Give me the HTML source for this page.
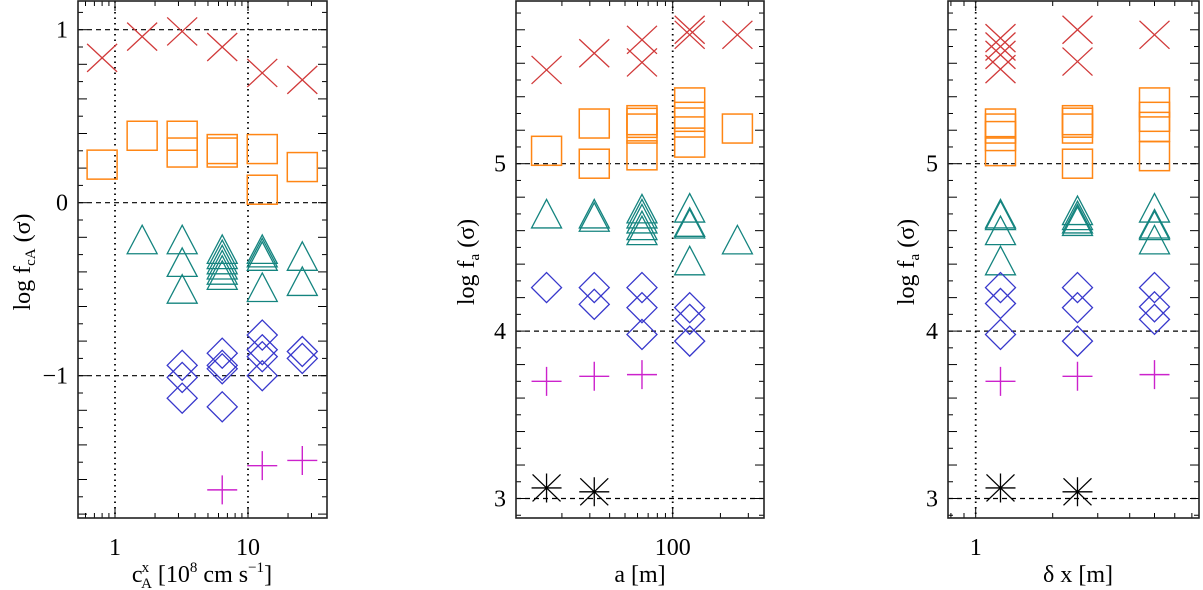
<!DOCTYPE html>
<html><head><meta charset="utf-8"><style>
html,body{margin:0;padding:0;background:#fff;}
svg{display:block;font-family:"Liberation Serif",serif;}
</style></head><body>
<svg id="chart" width="1203" height="590" viewBox="0 0 1203 590" xmlns="http://www.w3.org/2000/svg"></svg>
<script>
// ---- Panel 1 data: log f_cA vs c_A^x ----
const p1Cols = [0.8, 1.6, 3.2, 6.4, 12.8, 25.6];
const p1Cross = [[0.837],[0.96],[0.99],[0.90],[0.75],[0.71]];
const p1Square = [[0.22],[0.387],[0.387,0.29],[0.31,0.29],[0.31,0.075],[0.206]];
const p1Tri = [[],[-0.214],[-0.214,-0.345,-0.50],[-0.27,-0.30,-0.33,-0.36,-0.39,-0.42],[-0.27,-0.29,-0.31,-0.49],[-0.31,-0.455]];
const p1Diamond = [[],[],[-0.94,-1.01,-1.13],[-0.87,-0.94,-0.96,-1.18],[-0.765,-0.85,-0.89,-1.0],[-0.86,-0.90]];
const p1Plus = [[],[],[],[-1.66],[-1.52],[-1.49]];
const p1Star = [[],[],[],[],[],[]];
const p1YTicks = [-1, 0, 1];

// ---- Panel 2 data: log f_a vs a ----
const p2Cols = [16, 32, 64, 128, 256];
const p2Cross = [[5.56],[5.66],[5.74,5.605],[5.80,5.77],[5.77]];
const p2Square = [[5.077],[5.24,5.0],[5.26,5.244,5.21,5.05],[5.366,5.28,5.246,5.126],[5.21]];
const p2Tri = [[4.70],[4.70,4.68],[4.73,4.70,4.67,4.63,4.60],[4.735,4.65,4.64,4.42],[4.545]];
const p2Diamond = [[4.26],[4.26,4.16],[4.26,4.14,3.98],[4.14,4.07,3.94],[]];
const p2Plus = [[3.70],[3.73],[3.74],[],[]];
const p2Star = [[3.063],[3.04],[],[],[]];
const p2YTicks = [3, 4, 5];

// ---- Panel 3 data: log f_a vs delta x ----
const p3Cols = [1.25, 2.5, 5];
const p3Cross = [[5.75,5.70,5.65,5.565],[5.80,5.61],[5.77]];
const p3Square = [[5.24,5.21,5.165,5.075],[5.26,5.245,5.21,5.0],[5.366,5.28,5.22,5.045]];
const p3Tri = [[4.70,4.69,4.60,4.42],[4.72,4.69,4.67,4.655],[4.735,4.64,4.63,4.545]];
const p3Diamond = [[4.26,4.165,3.98],[4.26,4.14,3.94],[4.26,4.145,4.07]];
const p3Plus = [[3.70],[3.73],[3.74]];
const p3Star = [[3.063],[3.04],[]];

const NS = "http://www.w3.org/2000/svg";
const svg = document.getElementById('chart');
function mk(tag, attrs, parent){
  const e = document.createElementNS(NS, tag);
  for (const k in attrs) e.setAttribute(k, attrs[k]);
  (parent||svg).appendChild(e);
  return e;
}

const COLORS = {cross:'#d13a3a', square:'#ff8614', tri:'#14847f', diamond:'#3838cc', plus:'#cc22cc', star:'#000'};

function marker(g, type, cx, cy){
  const c = COLORS[type];
  let e;
  if (type==='cross'){
    e = mk('path',{d:`M${cx-15},${cy-14}L${cx+15},${cy+14}M${cx-15},${cy+14}L${cx+15},${cy-14}`,stroke:c,'stroke-width':1.3,fill:'none'},g);
  } else if (type==='square'){
    e = mk('rect',{x:cx-15,y:cy-14.5,width:30,height:29,stroke:c,'stroke-width':1.5,fill:'none'},g);
  } else if (type==='tri'){
    e = mk('path',{d:`M${cx},${cy-14.5}L${cx+15},${cy+14}L${cx-15},${cy+14}Z`,stroke:c,'stroke-width':1.3,fill:'none'},g);
  } else if (type==='diamond'){
    e = mk('path',{d:`M${cx},${cy-15}L${cx+15},${cy}L${cx},${cy+15}L${cx-15},${cy}Z`,stroke:c,'stroke-width':1.3,fill:'none'},g);
  } else if (type==='plus'){
    e = mk('path',{d:`M${cx-15},${cy}L${cx+15},${cy}M${cx},${cy-14.5}L${cx},${cy+14.5}`,stroke:c,'stroke-width':1.4,fill:'none'},g);
  } else {
    e = mk('path',{d:`M${cx-15},${cy}L${cx+15},${cy}M${cx},${cy-14.5}L${cx},${cy+14.5}M${cx-14},${cy-13.5}L${cx+14},${cy+13.5}M${cx-14},${cy+13.5}L${cx+14},${cy-13.5}`,stroke:c,'stroke-width':1.3,fill:'none'},g);
  }
  
  
}

function panel(o){
  const g = mk('g',{});
  
  
  const X = v => o.x0 + (Math.log10(v) - o.lx0) * o.dec;
  const Y = v => o.yref + (o.vref - v) * o.unit;
  o.yTicks.forEach(v=>{
    const l = mk('line',{x1:o.L,x2:o.R,y1:Y(v),y2:Y(v),stroke:'#000','stroke-width':1.2,'stroke-dasharray':'5,4'},g);
    
    
  });
  o.vlines.forEach(v=>{
    const l = mk('line',{x1:X(v),x2:X(v),y1:o.T,y2:o.B,stroke:'#000','stroke-width':1.8,'stroke-dasharray':'1.5,4'},g);
    
    
  });
  for (let v = Math.ceil(o.ymin*10)/10; v <= o.ymax+1e-9; v += 0.1){
    const vv = Math.round(v*10)/10;
    const yy = Y(vv);
    if (yy < o.T || yy > o.B) continue;
    const major = Math.abs(Math.round(vv*5) - vv*5) < 1e-6;
    const len = major ? 9 : 5;
    mk('line',{x1:o.L,x2:o.L+len,y1:yy,y2:yy,stroke:'#000','stroke-width':1},g);
    mk('line',{x1:o.R,x2:o.R-len,y1:yy,y2:yy,stroke:'#000','stroke-width':1},g);
  }
  for (let d = -1; d <= 3; d++){
    for (let m = 1; m <= 9; m++){
      const v = m*Math.pow(10,d);
      const xx = X(v);
      if (xx < o.L+0.5 || xx > o.R-0.5) continue;
      const len = m===1 ? 10 : 5;
      mk('line',{x1:xx,x2:xx,y1:o.B,y2:o.B-len,stroke:'#000','stroke-width':1},g);
      mk('line',{x1:xx,x2:xx,y1:o.T,y2:o.T+len,stroke:'#000','stroke-width':1},g);
    }
  }
  const sets = [['cross',o.cross],['square',o.square],['tri',o.tri],['diamond',o.diamond],['plus',o.plus],['star',o.star]];
  sets.forEach(([t,arr])=>{
    arr.forEach((vals,i)=>{ vals.forEach(v=> marker(g,t,X(o.cols[i]),Y(v))); });
  });
  const f = mk('rect',{x:o.L,y:o.T,width:o.R-o.L,height:o.B-o.T,fill:'none',stroke:'#222','stroke-width':1.6},g);
  
  
  o.yTicks.forEach(v=>{
    const t = mk('text',{x:o.L-10,y:Y(v)+8,'text-anchor':'end','font-size':24},g);
    t.textContent = v<0 ? '\u2212'+Math.abs(v) : String(v);
    
    
  });
  o.xLabels.forEach(v=>{
    const t = mk('text',{x:X(v),y:555,'text-anchor':'middle','font-size':24},g);
    t.textContent = String(v);
    
    
  });
  return g;
}

panel({name:'panel-cA', L:78, R:327, T:1, B:518, x0:115, lx0:0, dec:133, yref:202.7, vref:0, unit:173, ymin:-2.2, ymax:1.2,
  cols:p1Cols, cross:p1Cross, square:p1Square, tri:p1Tri, diamond:p1Diamond, plus:p1Plus, star:p1Star,
  yTicks:p1YTicks, vlines:[1,10], xLabels:[1,10]});
panel({name:'panel-a', L:516, R:764, T:1, B:518, x0:672.7, lx0:2, dec:158.5, yref:163.7, vref:5, unit:167.4, ymin:2.5, ymax:6,
  cols:p2Cols, cross:p2Cross, square:p2Square, tri:p2Tri, diamond:p2Diamond, plus:p2Plus, star:p2Star,
  yTicks:p2YTicks, vlines:[100], xLabels:[100]});
panel({name:'panel-dx', L:948, R:1199, T:1, B:518, x0:975.7, lx0:0, dec:255.8, yref:163.7, vref:5, unit:167.4, ymin:2.5, ymax:6,
  cols:p3Cols, cross:p3Cross, square:p3Square, tri:p3Tri, diamond:p3Diamond, plus:p3Plus, star:p3Star,
  yTicks:p2YTicks, vlines:[1], xLabels:[1]});
</script>
<svg style="position:absolute;left:0;top:0" width="1203" height="590" xmlns="http://www.w3.org/2000/svg" font-family="Liberation Serif, serif">
  <text transform="translate(30,262) rotate(-90)" text-anchor="middle" font-size="24">log f<tspan font-size="15" dy="5">cA</tspan><tspan dy="-5"> (σ)</tspan></text>
  <text transform="translate(474,262) rotate(-90)" text-anchor="middle" font-size="24">log f<tspan font-size="15" dy="5">a</tspan><tspan dy="-5"> (σ)</tspan></text>
  <text transform="translate(914,262) rotate(-90)" text-anchor="middle" font-size="24">log f<tspan font-size="15" dy="5">a</tspan><tspan dy="-5"> (σ)</tspan></text>
  <text x="202" y="582" text-anchor="middle" font-size="24">c<tspan font-size="15" dx="-1" dy="-10">x</tspan><tspan font-size="15" dx="-8" dy="16">A</tspan><tspan dy="-6"> [10</tspan><tspan font-size="15" dy="-10">8</tspan><tspan dy="10"> cm s</tspan><tspan font-size="15" dy="-10">−1</tspan><tspan dy="10">]</tspan></text>
  <text x="640" y="582" text-anchor="middle" font-size="24">a [m]</text>
  <text x="1078" y="582" text-anchor="middle" font-size="24">δ x [m]</text>
</svg>
</body></html>
